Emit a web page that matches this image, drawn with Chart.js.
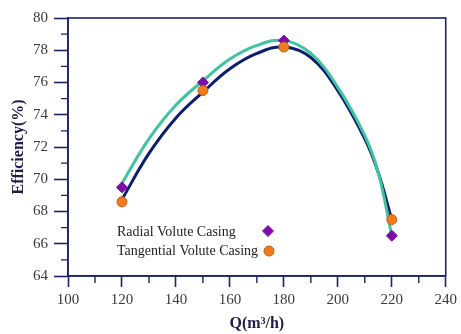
<!DOCTYPE html>
<html>
<head>
<meta charset="utf-8">
<script src="https://cdn.jsdelivr.net/npm/chart.js@4/dist/chart.umd.min.js"></script>
<style>
html,body{margin:0;padding:0;background:#fff;}
#wrap{width:461px;height:334px;position:relative;}
</style>
</head>
<body>
<div id="wrap"><canvas id="c" width="461" height="334"></canvas></div>
<script>
// Measured points
const flowQ = [120, 150, 180, 220];
const radialEff = [69.5, 76.0, 78.6, 66.5];
const tangentialEff = [68.6, 75.5, 78.2, 67.5];

// Fitted curves
const curveQ = [120, 130, 140, 150, 160, 170, 180, 190, 200, 210, 215, 220];
const radialCurve = [69.75, 72.5, 74.6, 76.1, 77.45, 78.3, 78.6, 77.8, 75.7, 72.7, 70.4, 66.5];
const tangentialCurve = [68.75, 71.6, 73.8, 75.4, 76.85, 77.8, 78.2, 77.55, 75.5, 72.5, 70.4, 67.5];

const xTicks = [100, 120, 140, 160, 180, 200, 220, 240];
const yTicks = [64, 66, 68, 70, 72, 74, 76, 78, 80];
const legendLabels = ['Radial Volute Casing', 'Tangential Volute Casing'];

const NAVY = '#1b2363';
const TEAL = '#3fc3a0';
const DARK = '#0c1e6e';
const PURPLE = '#7d0ca8';
const ORANGE = '#f07a1c';
const SERIF = "'Liberation Serif', 'Times New Roman', serif";

const pts = (xs, ys) => xs.map((x, i) => ({x: x, y: ys[i]}));

const frame = {
  id: 'frame',
  afterDraw(chart) {
    const {ctx, chartArea: a, scales} = chart;
    ctx.save();
    ctx.strokeStyle = NAVY;
    ctx.lineWidth = 1.6;
    ctx.strokeRect(a.left, a.top, a.right - a.left, a.bottom - a.top);
    // minor ticks
    ctx.lineWidth = 1.4;
    ctx.beginPath();
    for (let v = 110; v < 240; v += 20) {
      const x = scales.x.getPixelForValue(v);
      ctx.moveTo(x, a.bottom); ctx.lineTo(x, a.bottom + 7);
    }
    for (let v = 65; v < 80; v += 2) {
      const y = scales.y.getPixelForValue(v);
      ctx.moveTo(a.left - 7, y); ctx.lineTo(a.left, y);
    }
    ctx.stroke();
    // legend
    ctx.fillStyle = '#222';
    ctx.font = '14px ' + SERIF;
    ctx.textBaseline = 'middle';
    ctx.textAlign = 'left';
    ctx.fillText(legendLabels[0], 117, 232);
    ctx.fillText(legendLabels[1], 117, 251);
    ctx.fillStyle = PURPLE; ctx.strokeStyle = PURPLE; ctx.lineWidth = 1;
    Chart.helpers.drawPoint(ctx, {pointStyle: 'rectRot', radius: 5.5, borderWidth: 1}, 268, 231);
    ctx.fillStyle = ORANGE; ctx.strokeStyle = '#c45e12';
    Chart.helpers.drawPoint(ctx, {pointStyle: 'circle', radius: 5, borderWidth: 1}, 269, 251);
    ctx.restore();
  }
};

new Chart(document.getElementById('c'), {
  type: 'scatter',
  data: {
    datasets: [
      {label: legendLabels[0], data: pts(flowQ, radialEff), pointStyle: 'rectRot', pointRadius: 5.5,
       backgroundColor: PURPLE, borderColor: PURPLE, borderWidth: 1, showLine: false, order: 1},
      {label: legendLabels[1], data: pts(flowQ, tangentialEff), pointStyle: 'circle', pointRadius: 5,
       backgroundColor: ORANGE, borderColor: '#c45e12', borderWidth: 1, showLine: false, order: 0},
      {label: 'radial fit', data: pts(curveQ, radialCurve), showLine: true, pointRadius: 0,
       borderColor: TEAL, borderWidth: 3, tension: 0.4, order: 2},
      {label: 'tangential fit', data: pts(curveQ, tangentialCurve), showLine: true, pointRadius: 0,
       borderColor: DARK, borderWidth: 3, tension: 0.4, order: 3}
    ]
  },
  options: {
    responsive: false,
    animation: false,
    events: [],
    layout: {padding: {top: 18, right: 7, left: 0, bottom: 0}},
    plugins: {legend: {display: false}, tooltip: {enabled: false}},
    scales: {
      x: {
        type: 'linear', min: 100, max: 240,
        afterFit: s => { s.height = 58; },
        afterBuildTicks: s => { s.ticks = xTicks.map(v => ({value: v})); },
        grid: {drawOnChartArea: false, tickLength: 11, tickColor: NAVY, tickWidth: 1.6},
        border: {color: NAVY, width: 1.6},
        ticks: {color: '#3a3a3a', font: {family: SERIF, size: 15}, padding: 4, maxRotation: 0},
        title: {display: true, text: 'Q(m³/h)', color: '#1d1d4a',
                font: {family: SERIF, size: 16, weight: 'bold'}, padding: {top: 0, bottom: 1}}
      },
      y: {
        type: 'linear', min: 64, max: 80,
        afterFit: s => { s.width = 68; },
        afterBuildTicks: s => { s.ticks = yTicks.map(v => ({value: v})); },
        grid: {drawOnChartArea: false, tickLength: 14, tickColor: NAVY, tickWidth: 1.6},
        border: {color: NAVY, width: 1.6},
        ticks: {color: '#3a3a3a', font: {family: SERIF, size: 15}, padding: 6},
        title: {display: true, text: 'Efficiency(%)', color: '#1d1d4a',
                font: {family: SERIF, size: 16, weight: 'bold'}, padding: {top: 9, bottom: 0}}
      }
    }
  },
  plugins: [frame]
});
</script>
</body>
</html>
